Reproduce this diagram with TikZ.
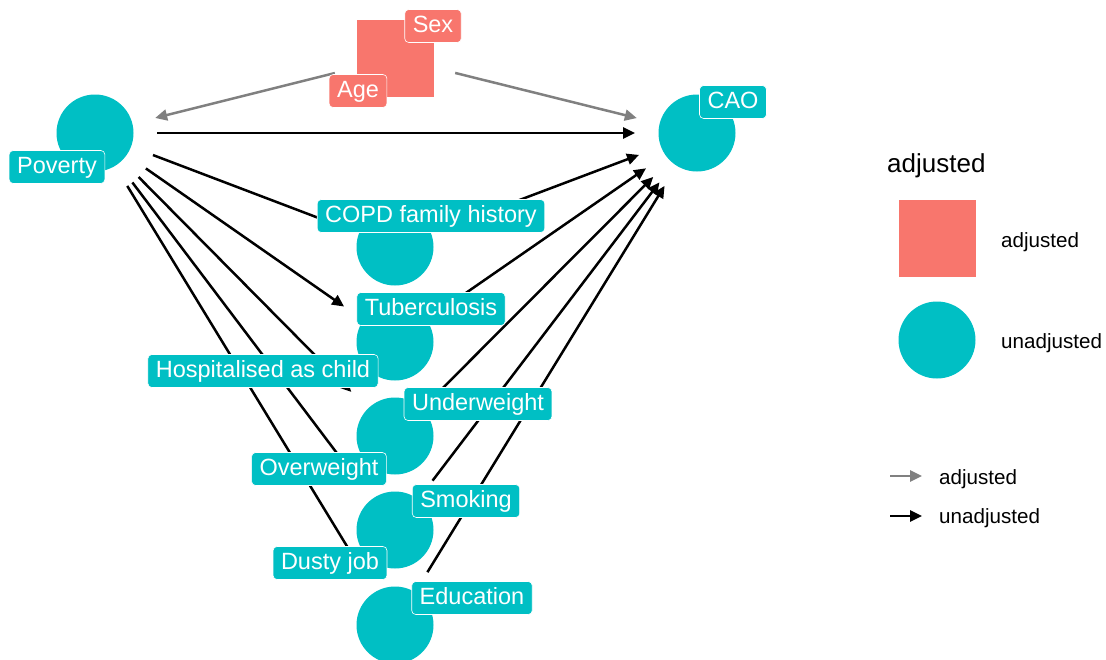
\documentclass[tikz,border=0pt]{standalone}
\usepackage{fontspec}
\setmainfont{Liberation Sans}
\usepackage{xcolor}
\usetikzlibrary{arrows.meta, positioning, calc}
\definecolor{adjred}{HTML}{F8766D}
\definecolor{unadjteal}{HTML}{00BFC4}

\begin{document}
\begin{tikzpicture}[x=1pt, y=-1pt,
    every node/.style={inner sep=0pt},
    varnode/.style={circle, fill=unadjteal, minimum size=77pt},
    adjnode/.style={rectangle, fill=adjred, minimum size=77pt},
    varlabel/.style={fill=unadjteal, draw=white, line width=0.6pt, rounded corners=4pt,
        text=white, font=\fontsize{23.5}{28}\selectfont,
        inner xsep=8pt, inner ysep=5.5pt, text height=17pt, text depth=5pt},
    adjlabel/.style={varlabel, fill=adjred},
    causal/.style={-{Triangle[length=12pt, width=11pt]}, line width=2.5pt,
        shorten <=62pt, shorten >=62pt},
    adjcausal/.style={causal, draw=black!50},
    keytext/.style={anchor=base west, font=\fontsize{20.6}{24}\selectfont}]
    \useasboundingbox (0,0) rectangle (1106,659);
    % =========================================================
    % DAG NODES (shared positions for paired mediators)
    % =========================================================
    \node[adjnode] (agesex) at (395,58) {};
    \node[varnode] (pov)  at (95,133) {};
    \node[varnode] (cao)  at (697,133) {};
    \node[varnode] (copd) at (395,247) {};
    \node[varnode] (tb)   at (395,342) {};
    \node[varnode] (uw)   at (395,436) {};
    \node[varnode] (smk)  at (395,530) {};
    \node[varnode] (edu)  at (395,625) {};

    % =========================================================
    % CAUSAL PATHS
    % =========================================================
    \draw[adjcausal] (agesex.center) -- (pov.center);
    \draw[adjcausal] (agesex.center) -- (cao.center);
    \draw[causal] (pov.center) -- (cao.center);
    \foreach \med in {copd, tb, uw, smk, edu} {
        \draw[causal] (pov.center) -- (\med.center);
        \draw[causal] (\med.center) -- (cao.center);
    }

    % =========================================================
    % NODE LABELS
    % =========================================================
    \node[adjlabel] (sex)   at (433,26)  {Sex};
    \node[adjlabel] (age)   at (358,91)  {Age};
    \node[varlabel] (povl)  at (57,167)  {Poverty};
    \node[varlabel] (caol)  at (733,102) {CAO};
    \node[varlabel] (copdl) at (431,216) {COPD family history};
    \node[varlabel] (tbl)   at (431,309) {Tuberculosis};
    \node[varlabel] (hospl) at (263,371) {Hospitalised as child};
    \node[varlabel] (uwl)   at (478,404) {Underweight};
    \node[varlabel] (owl)   at (319,469) {Overweight};
    \node[varlabel] (smkl)  at (466,501) {Smoking};
    \node[varlabel] (dustl) at (330,563) {Dusty job};
    \node[varlabel] (edul)  at (472,598) {Education};

    % =========================================================
    % LEGEND
    % =========================================================
    \node[anchor=base west, font=\fontsize{26}{30}\selectfont] (keytitle) at (887,172) {adjusted};
    \node[adjnode] (keyadj)   at (937,238) {};
    \node[varnode] (keyunadj) at (937,340) {};
    \node[keytext] (keyadjtxt)   at (1001,247) {adjusted};
    \node[keytext] (keyunadjtxt) at (1001,348) {unadjusted};
    \coordinate (kadjA) at (890,476);
    \coordinate (kadjB) at (922,476);
    \coordinate (kunA) at (890,516);
    \coordinate (kunB) at (922,516);
    \draw[adjcausal, shorten <=0pt, shorten >=0pt] (kadjA) -- (kadjB);
    \draw[causal, shorten <=0pt, shorten >=0pt] (kunA) -- (kunB);
    \node[keytext] (keyedgeadj) at (939,484) {adjusted};
    \node[keytext] (keyedgeun)  at (939,523) {unadjusted};
\end{tikzpicture}
\end{document}
